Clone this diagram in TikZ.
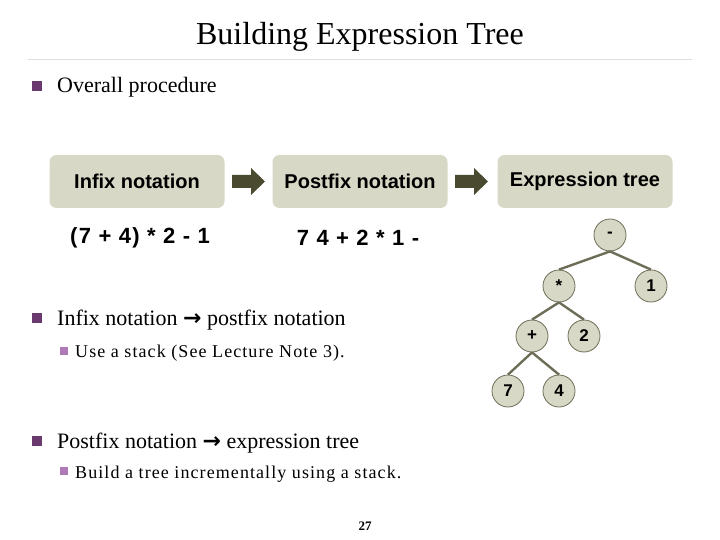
\documentclass[tikz,border=0pt]{standalone}
\usepackage{fontspec}
\setmainfont{Liberation Serif}
\newfontfamily\boxfont{Liberation Sans}
\newfontfamily\arrfont{DejaVu Sans}
\definecolor{boxfill}{HTML}{D8D8C6}
\definecolor{edgec}{HTML}{6E6E58}
\definecolor{arrc}{HTML}{4A4A30}
\definecolor{bulA}{HTML}{6A3A6E}
\definecolor{bulB}{HTML}{B07AB8}
\newcommand{\rarr}{{\arrfont\bfseries →}}
\begin{document}
\begin{tikzpicture}[x=1pt,y=-1pt,
  stepbox/.style={fill=boxfill,rounded corners=7pt,minimum width=175pt,minimum height=53pt,font=\boxfont\bfseries\fontsize{20}{22}\selectfont},
  expr/.style={font=\boxfont\bfseries\fontsize{22}{24}\selectfont\addfontfeature{LetterSpace=6}},
  tn/.style={circle,draw=edgec,fill=boxfill,line width=0.8pt,minimum size=32pt,inner sep=0pt,font=\boxfont\bfseries\fontsize{17}{18}\selectfont},
  te/.style={draw=edgec,line width=2.4pt},
  blk/.style={fill=arrc},
  txt/.style={anchor=base west,inner sep=0pt,font=\fontsize{22}{26}\selectfont},
  stxt/.style={anchor=base west,inner sep=0pt,font=\fontsize{18}{22}\selectfont\addfontfeature{LetterSpace=6}}]
\useasboundingbox (0,0) rectangle (720,540);
\fill[white] (0,0) rectangle (720,540);
\node[font=\fontsize{32}{36}\selectfont] (title) at (360,37) {Building Expression Tree};
\draw[gray!25,line width=1pt] (28,60) -- (692,60);
% bullets
\fill[bulA] (32,81) rectangle (42,91);
\node[txt] (b1) at (57,93) {Overall procedure};
\fill[bulA] (32,313) rectangle (42,323);
\node[txt] (b2) at (57,325) {Infix notation \rarr{} postfix notation};
\fill[bulB] (60,347) rectangle (68,355);
\node[stxt] (s2) at (75,357) {Use a stack (See Lecture Note 3).};
\fill[bulA] (32,436) rectangle (42,446);
\node[txt] (b3) at (57,448) {Postfix notation \rarr{} expression tree};
\fill[bulB] (60,467) rectangle (68,475);
\node[stxt] (s3) at (75,478) {Build a tree incrementally using a stack.};
\node[font=\fontsize{13}{15}\selectfont\bfseries] (pg) at (365,526) {27};
% boxes
\node[stepbox] (infix) at (137,181.5) {Infix notation};
\node[stepbox] (postfix) at (360,181.5) {Postfix notation};
\node[stepbox] (etree) at (585,181.5) {Expression tree};
\fill[blk] (232,175) -- (251,175) -- (251,168) -- (265,181.5) -- (251,195) -- (251,188) -- (232,188) -- cycle;
\fill[blk] (455,175) -- (474,175) -- (474,168) -- (488,181.5) -- (474,195) -- (474,188) -- (455,188) -- cycle;
\node[expr] (e1) at (140,238) {(7 + 4) * 2 - 1};
\node[expr] (e2) at (358,238) {7 4 + 2 * 1 -};
% tree
\node[tn] (m) at (610,235) {-};
\node[tn] (t) at (559,286) {*};
\node[tn] (one) at (651,286) {1};
\node[tn] (p) at (532,336) {+};
\node[tn] (two) at (584,336) {2};
\node[tn] (sev) at (508,391) {7};
\node[tn] (four) at (559,391) {4};
\draw[te] (m.south) -- (t.north);
\draw[te] (m.south) -- (one.north);
\draw[te] (t.south) -- (p.north);
\draw[te] (t.south) -- (two.north);
\draw[te] (p.south) -- (sev.north);
\draw[te] (p.south) -- (four.north);
\end{tikzpicture}
\end{document}
